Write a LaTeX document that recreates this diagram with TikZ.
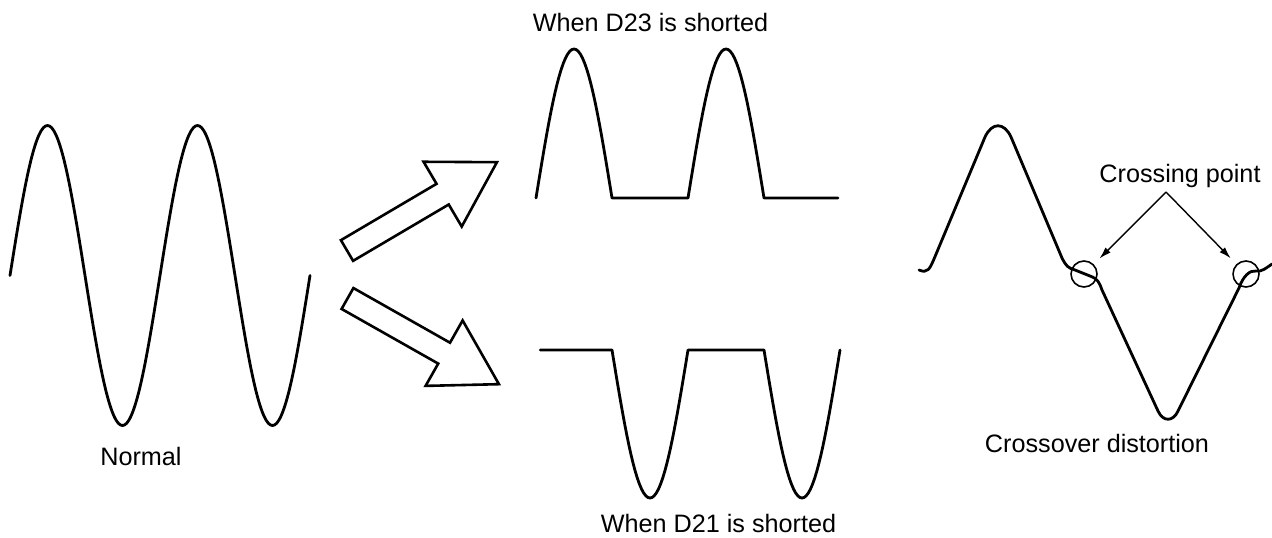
\documentclass[tikz,border=0pt]{standalone}
\usepackage{fontspec}
\setmainfont{Liberation Sans}
\usetikzlibrary{arrows.meta,positioning,calc}
\tikzset{
  wave/.style={line width=1.4pt, line join=round, line cap=round},
  label/.style={font=\fontsize{12.6}{15}\selectfont, inner sep=0pt},
  ring/.style={draw, circle, line width=0.8pt, minimum size=13pt, inner sep=0pt},
  pointer/.style={line width=0.7pt, -{Latex[length=6pt,width=3.6pt]}, shorten >=4pt},
  bigarrow/.pic={\draw[line width=1.3pt, line join=miter]
    (0,-12) -- (111,-12) -- (111,-37.6) -- (174,0) -- (111,37.6) -- (111,12) -- (0,12) -- cycle;}
}
\begin{document}
\begin{tikzpicture}[x=0.5pt, y=0.5pt]
  \useasboundingbox (0,0) rectangle (1272,537);
  % normal sine
  \draw[wave] plot[domain=0:720, samples=145, smooth] ({10+\x/360*150}, {261.5+150*sin(\x)});
  \node[label] (normal) at (141,81) {Normal};
  % the two hollow arrows
  \pic[rotate=30.5] at (347,286.5) {bigarrow};
  \pic[rotate=-29.5] at (347.5,238.5) {bigarrow};
  % clipped waves
  \node[label] (d23) at (650.5,515) {When D23 is shorted};
  \draw[wave] plot[domain=0:715, samples=144] ({536+\x/360*152}, {339+149*max(sin(\x),0)});
  \draw[wave] plot[domain=10:720, samples=143] ({536+\x/360*152}, {187+148*min(sin(\x),0)});
  \node[label] (d21) at (718.5,14) {When D21 is shorted};
  % crossover distortion
  \draw[wave] (919,267) .. controls (928,263) and (930,269) .. (934,278)
    -- (985,400) .. controls (992,415) and (1004,415) .. (1011,400)
    -- (1062,279) .. controls (1066,271) and (1068,269) .. (1075,267)
    -- (1090,261) .. controls (1098,258) and (1099,255) .. (1102,247)
    -- (1158,126) .. controls (1163,115) and (1173,115) .. (1178,126)
    -- (1239,249) .. controls (1243,261) and (1250,267) .. (1256,266)
    .. controls (1262,265) and (1266,269) .. (1272,273);
  \node[ring] (xl) at (1084,263) {};
  \node[ring] (xr) at (1246,263) {};
  \node[label, anchor=base] (cross) at (1180,355) {Crossing point};
  \coordinate (fork) at (1166,345);
  \draw[pointer] (fork) -- (xl);
  \draw[pointer] (fork) -- (xr);
  \node[label, anchor=base] (dist) at (1097,85) {Crossover distortion};
\end{tikzpicture}
\end{document}
